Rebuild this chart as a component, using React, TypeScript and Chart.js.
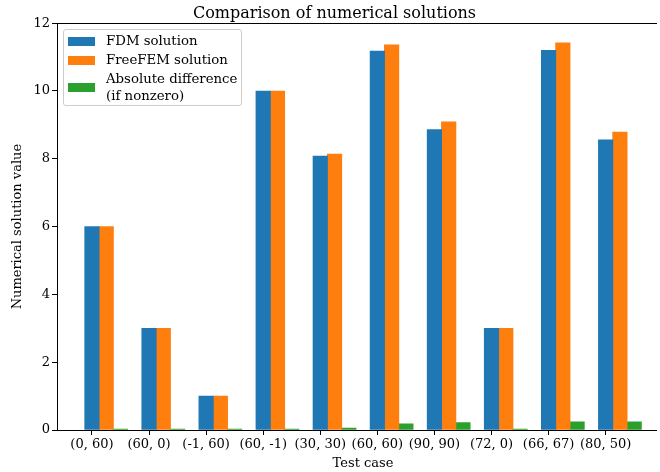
import React, { useEffect, useRef } from "react";
import { Chart, registerables } from "chart.js";

Chart.register(...registerables);

const categories = ["(0, 60)", "(60, 0)", "(-1, 60)", "(60, -1)", "(30, 30)", "(60, 60)", "(90, 90)", "(72, 0)", "(66, 67)", "(80, 50)"];
const fdmValues = [6.0, 3.0, 1.0, 10.0, 8.08, 11.18, 8.86, 3.0, 11.2, 8.56];
const freefemValues = [6.0, 3.0, 1.0, 10.0, 8.14, 11.36, 9.09, 3.0, 11.42, 8.79];
const diffValues = [0, 0, 0, 0, 0.06, 0.18, 0.22, 0, 0.24, 0.24];
const yTicks = [0, 2, 4, 6, 8, 10, 12];

const FONT = "'DejaVu Serif', serif";

const framePlugin = {
  id: "frame",
  afterDatasetsDraw(chart: any) {
    const { ctx, chartArea } = chart;
    const l = Math.round(chartArea.left);
    const t = Math.round(chartArea.top);
    const b = Math.round(chartArea.bottom);
    const r = Math.min(Math.round(chartArea.right), 657);
    ctx.save();
    ctx.fillStyle = "#000";
    ctx.fillRect(l, t, r - l, 1);
    ctx.fillRect(l, b, r - l, 1);
    ctx.fillRect(l, t, 1, b - t + 1);
    ctx.restore();
  },
};

export default function App() {
  const ref = useRef<HTMLCanvasElement>(null);
  useEffect(() => {
    if (!ref.current) return;
    const mk = (vals: number[], off: number) => vals.map((v, i) => ({ x: i + off, y: v }));
    const chart = new Chart(ref.current, {
      type: "bar",
      data: {
        datasets: [
          { label: "FDM solution", data: mk(fdmValues, 0), backgroundColor: "#1f77b4", grouped: false, barThickness: 14.5 } as any,
          { label: "FreeFEM solution", data: mk(freefemValues, 0.25), backgroundColor: "#ff7f0e", grouped: false, barThickness: 14.5 } as any,
          { label: "Absolute difference (if nonzero)", data: mk(diffValues, 0.5), backgroundColor: "#2ca02c", grouped: false, barThickness: 14.5, minBarLength: 1 } as any,
        ],
      },
      options: {
        responsive: false,
        animation: false,
        devicePixelRatio: 1,
        layout: { padding: { top: 0, right: 31, left: 0, bottom: 0 } },
        plugins: {
          legend: { display: false },
          tooltip: { enabled: false },
          title: {
            display: true,
            text: "Comparison of numerical solutions",
            color: "#000",
            font: { family: FONT, size: 16, weight: "normal" },
            padding: { top: 4, bottom: 0 },
          },
        },
        scales: {
          x: {
            type: "linear",
            offset: false,
            min: -0.6125,
            max: 10.11,
            afterBuildTicks: (s: any) => {
              s.ticks = categories.map((_, i) => ({ value: i }));
            },
            afterFit: (s: any) => {
              s.height = 42;
            },
            ticks: {
              autoSkip: false,
              maxRotation: 0,
              padding: 2,
              color: "#000",
              font: { family: FONT, size: 13 },
              callback: (v: any) => categories[v] ?? "",
            },
            grid: { display: true, offset: false, drawOnChartArea: false, drawTicks: true, tickLength: 5, color: "#000" },
            border: { display: false },
            title: {
              display: true,
              text: "Test case",
              color: "#000",
              font: { family: FONT, size: 13 },
              padding: { top: 0, bottom: 1 },
            },
          },
          y: {
            min: 0,
            max: 12,
            afterBuildTicks: (s: any) => {
              s.ticks = yTicks.map((v) => ({ value: v }));
            },
            afterFit: (s: any) => {
              s.width = 57;
            },
            ticks: { padding: 2, color: "#000", font: { family: FONT, size: 13 } },
            grid: { display: true, drawOnChartArea: false, drawTicks: true, tickLength: 5, color: "#000" },
            border: { display: false },
            title: {
              display: true,
              text: "Numerical solution value",
              color: "#000",
              font: { family: FONT, size: 13 },
              padding: { top: 10, bottom: 0 },
            },
          },
        },
      },
      plugins: [framePlugin],
    } as any);
    return () => chart.destroy();
  }, []);

  const legendItems = [
    { color: "#1f77b4", lines: ["FDM solution"], top: 36.7 },
    { color: "#ff7f0e", lines: ["FreeFEM solution"], top: 55.7 },
    { color: "#2ca02c", lines: ["Absolute difference", "(if nonzero)"], top: 83.3 },
  ];

  return (
    <div style={{ position: "absolute", left: 0, top: 0, width: 660, height: 472, overflow: "hidden", background: "#fff" }}>
      <canvas ref={ref} width={700} height={472} style={{ display: "block" }} />
      <div
        style={{
          position: "absolute",
          left: 63,
          top: 29,
          width: 179,
          height: 77,
          border: "1px solid #cccccc",
          borderRadius: 3,
          background: "rgba(255,255,255,0.8)",
          fontFamily: FONT,
          fontSize: 13.3,
          color: "#000",
          boxSizing: "border-box",
        }}
      >
        {legendItems.map((it, k) => (
          <React.Fragment key={k}>
            <div style={{ position: "absolute", left: 4, top: it.top - 29 - 1, width: 27, height: 9, background: it.color }} />
            <div
              style={{
                position: "absolute",
                left: 42,
                top: it.top - 29 - 1 + 4.5 - (it.lines.length * 16.5) / 2,
                lineHeight: "16.5px",
                whiteSpace: "nowrap",
              }}
            >
              {it.lines.map((l, j) => (
                <div key={j}>{l}</div>
              ))}
            </div>
          </React.Fragment>
        ))}
      </div>
    </div>
  );
}
